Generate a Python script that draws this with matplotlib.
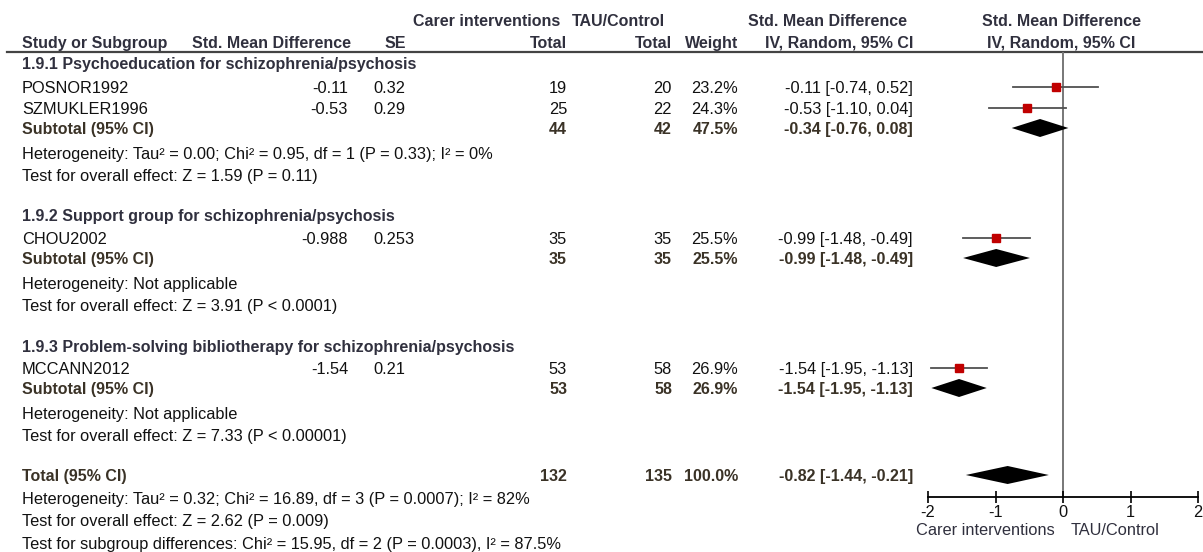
import matplotlib.pyplot as plt
from matplotlib.patches import Polygon

plt.rcParams['font.family'] = ['Liberation Sans', 'DejaVu Sans']

# DATA
studies = ['POSNOR1992', 'SZMUKLER1996', 'CHOU2002', 'MCCANN2012']
smd_txt = ['-0.11', '-0.53', '-0.988', '-1.54']
se_txt = ['0.32', '0.29', '0.253', '0.21']
n_carer = [19, 25, 35, 53]
n_tau = [20, 22, 35, 58]
weight = [23.2, 24.3, 25.5, 26.9]
est = [-0.11, -0.53, -0.99, -1.54]
lo = [-0.74, -1.10, -1.48, -1.95]
hi = [0.52, 0.04, -0.49, -1.13]

groups = ['1.9.1 Psychoeducation for schizophrenia/psychosis',
          '1.9.2 Support group for schizophrenia/psychosis',
          '1.9.3 Problem-solving bibliotherapy for schizophrenia/psychosis']
group_studies = [[0, 1], [2], [3]]
sub_n_carer = [44, 35, 53]
sub_n_tau = [42, 35, 58]
sub_weight = [47.5, 25.5, 26.9]
sub_est = [-0.34, -0.99, -1.54]
sub_lo = [-0.76, -1.48, -1.95]
sub_hi = [0.08, -0.49, -1.13]
sub_het = ['Heterogeneity: Tau\u00b2 = 0.00; Chi\u00b2 = 0.95, df = 1 (P = 0.33); I\u00b2 = 0%',
           'Heterogeneity: Not applicable',
           'Heterogeneity: Not applicable']
sub_test = ['Test for overall effect: Z = 1.59 (P = 0.11)',
            'Test for overall effect: Z = 3.91 (P < 0.0001)',
            'Test for overall effect: Z = 7.33 (P < 0.00001)']

tot_n_carer, tot_n_tau, tot_weight = 132, 135, 100.0
tot_est, tot_lo, tot_hi = -0.82, -1.44, -0.21
tot_notes = ['Heterogeneity: Tau\u00b2 = 0.32; Chi\u00b2 = 16.89, df = 3 (P = 0.0007); I\u00b2 = 82%',
             'Test for overall effect: Z = 2.62 (P = 0.009)',
             'Test for subgroup differences: Chi\u00b2 = 15.95, df = 2 (P = 0.0003), I\u00b2 = 87.5%']
x_ticks = [-2, -1, 0, 1, 2]

# LAYOUT (pixel rows)
W, H = 1203, 552
fs = 11.8       # regular text
fs_b = 11.5     # bold text
hdr_col = '#30303e'
sub_col = '#3a3226'
txt_col = '#111111'

fig = plt.figure(figsize=(W / 100, H / 100), dpi=100)
ax = fig.add_axes([0, 0, 1, 1])
ax.set_xlim(0, W)
ax.set_ylim(H, 0)
ax.axis('off')

def t(x, y, s, ha='left', bold=False, color=txt_col):
    ax.text(x, y + 1.5, s, ha=ha, va='center', fontsize=fs_b if bold else fs,
            color=color, fontweight='bold' if bold else 'normal')

# headers
t(560, 20, 'Carer interventions', 'right', True, hdr_col)
t(665, 20, 'TAU/Control', 'right', True, hdr_col)
t(827, 20, 'Std. Mean Difference', 'center', True, hdr_col)
t(1061, 20, 'Std. Mean Difference', 'center', True, hdr_col)
t(22, 42, 'Study or Subgroup', 'left', True, hdr_col)
t(271, 42, 'Std. Mean Difference', 'center', True, hdr_col)
t(395, 42, 'SE', 'center', True, hdr_col)
t(567, 42, 'Total', 'right', True, hdr_col)
t(672, 42, 'Total', 'right', True, hdr_col)
t(738, 42, 'Weight', 'right', True, hdr_col)
t(913, 42, 'IV, Random, 95% CI', 'right', True, hdr_col)
t(1061, 42, 'IV, Random, 95% CI', 'center', True, hdr_col)
ax.plot([7, W], [52, 52], color='#444444', lw=1.6)

# forest axes: x in effect units, y in pixel rows
fx0, fx1, fy_top, fy_bot = 928, 1198, 52, 497
fax = fig.add_axes([fx0 / W, (H - fy_bot) / H, (fx1 - fx0) / W, (fy_bot - fy_top) / H])
fax.set_xlim(-2, 2)
fax.set_ylim(fy_bot, fy_top)
fax.patch.set_alpha(0)
for sp in ['top', 'left', 'right']:
    fax.spines[sp].set_visible(False)
fax.spines['bottom'].set_linewidth(1.3)
fax.set_yticks([])
fax.set_xticks(x_ticks)
fax.set_xticklabels([str(v) for v in x_ticks])
fax.tick_params(axis='x', direction='inout', length=8, width=1.2, pad=1.5,
                labelsize=fs, labelcolor=txt_col)
fax.axvline(0, color='#777777', lw=1.4, zorder=1)

def diamond(y, e, l, h):
    fax.add_patch(Polygon([(l, y), (e, y - 9), (h, y), (e, y + 9)],
                          closed=True, color='black', lw=0, zorder=3))

rows = [(87, 108, 128, 153, 175, 63), (238, None, 258, 283, 305, 215),
        (368, None, 388, 413, 435, 346)]
for g, name in enumerate(groups):
    r = rows[g]
    t(22, r[5], name, 'left', True, hdr_col)
    study_ys = [r[0], r[1]][:len(group_studies[g])]
    for i, y in zip(group_studies[g], study_ys):
        t(22, y, studies[i])
        t(348, y, smd_txt[i], 'right')
        t(373, y, se_txt[i])
        t(567, y, str(n_carer[i]), 'right')
        t(672, y, str(n_tau[i]), 'right')
        t(738, y, '%.1f%%' % weight[i], 'right')
        t(913, y, '%.2f [%.2f, %.2f]' % (est[i], lo[i], hi[i]), 'right')
        fax.plot([lo[i], hi[i]], [y, y], color='#505050', lw=1.3, zorder=2)
        fax.plot(est[i], y, 's', color='#c00000', ms=0.33 * weight[i] * 0.72,
                 mec='#c00000', zorder=4)
    y = r[2]
    t(22, y, 'Subtotal (95% CI)', 'left', True, sub_col)
    t(567, y, str(sub_n_carer[g]), 'right', True, sub_col)
    t(672, y, str(sub_n_tau[g]), 'right', True, sub_col)
    t(738, y, '%.1f%%' % sub_weight[g], 'right', True, sub_col)
    t(913, y, '%.2f [%.2f, %.2f]' % (sub_est[g], sub_lo[g], sub_hi[g]), 'right', True, sub_col)
    diamond(y, sub_est[g], sub_lo[g], sub_hi[g])
    t(22, r[3], sub_het[g])
    t(22, r[4], sub_test[g])

# overall
t(22, 475, 'Total (95% CI)', 'left', True, sub_col)
t(567, 475, str(tot_n_carer), 'right', True, sub_col)
t(672, 475, str(tot_n_tau), 'right', True, sub_col)
t(738, 475, '%.1f%%' % tot_weight, 'right', True, sub_col)
t(913, 475, '%.2f [%.2f, %.2f]' % (tot_est, tot_lo, tot_hi), 'right', True, sub_col)
diamond(475, tot_est, tot_lo, tot_hi)
for y, s in zip([498, 520, 543], tot_notes):
    t(22, y, s)

t(1055, 529, 'Carer interventions', 'right', color=hdr_col)
t(1071, 529, 'TAU/Control', 'left', color=hdr_col)

fig.savefig('out.png', dpi=100)
plt.close('all')
